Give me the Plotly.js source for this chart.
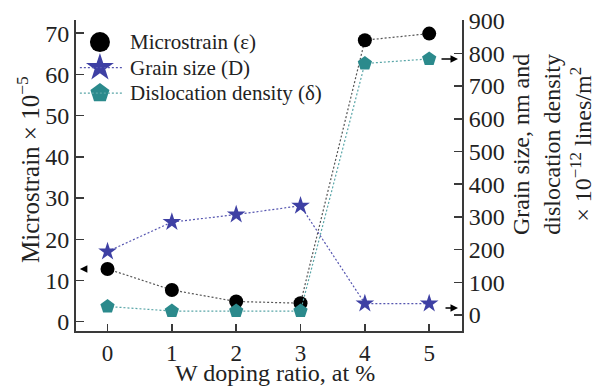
<!DOCTYPE html>
<html>
<head>
<meta charset="utf-8">
<script src="https://cdn.plot.ly/plotly-3.0.1.min.js"></script>
<style>html,body{margin:0;padding:0;background:#fff;}#chart{width:597px;height:391px;}</style>
</head>
<body>
<div id="chart"></div>
<script>
const dopingRatio = [0, 1, 2, 3, 4, 5];
const microstrain = [12.8, 7.7, 4.9, 4.5, 68.3, 69.9];
const grainSize = [194, 284, 307, 334, 35, 35];
const dislocationDensity = [26, 12, 12, 12, 769, 783];
const xTickLabels = ['0', '1', '2', '3', '4', '5'];
const seriesNames = ['Microstrain (ε)', 'Grain size (D)', 'Dislocation density (δ)'];

const FONT = 'Liberation Serif, Times New Roman, serif';
const TXT = '#222222';
const AX = '#3a3a3a';

const styles = [
  {line: {color: '#555555', width: 1.2, dash: '2px,2px'}, marker: {symbol: 'circle', size: 14, color: '#000000'}, legSize: 20, showLegLine: false},
  {line: {color: '#5656b0', width: 1.2, dash: '2px,2px'}, marker: {symbol: 'star', size: 14, color: '#3e40a4'}, legSize: 21, showLegLine: true},
  {line: {color: '#5aa6a8', width: 1.2, dash: '2px,2px'}, marker: {symbol: 'pentagon', size: 15, color: '#2b8a8c'}, legSize: 20, showLegLine: true}
];
const seriesY = [microstrain, grainSize, dislocationDensity];
const seriesAxis = ['y', 'y2', 'y2'];

const traces = seriesY.map((ys, i) => ({
  x: dopingRatio, y: ys, name: seriesNames[i], yaxis: seriesAxis[i],
  mode: 'lines+markers', line: styles[i].line, marker: styles[i].marker,
  showlegend: false
}));

// custom legend (layout positions in paper fractions of an overlay axis)
const legX0 = 0.010, legXm = 0.062, legX1 = 0.122, legTextX = 0.134;
const legRowY = [0.929, 0.847, 0.765];
const shapes = [];
seriesNames.forEach((nm, i) => {
  if (styles[i].showLegLine) {
    shapes.push({type: 'line', xref: 'paper', yref: 'paper', x0: legX0, x1: legX1, y0: legRowY[i], y1: legRowY[i],
      line: {color: styles[i].line.color, width: 1.2, dash: '2px,2px'}});
  }
  traces.push({
    x: [legXm], y: [legRowY[i]], xaxis: 'x2', yaxis: 'y3', mode: 'markers', showlegend: false, hoverinfo: 'skip',
    marker: {symbol: styles[i].marker.symbol, size: styles[i].legSize, color: styles[i].marker.color}
  });
});

const annotations = [
  {xref: 'paper', yref: 'paper', x: 0.5145, y: -0.136, xanchor: 'center', yanchor: 'middle',
   text: 'W doping ratio, at %', showarrow: false, font: {family: FONT, size: 24, color: TXT}},
  {xref: 'paper', yref: 'paper', x: -0.124, y: 0.518, xanchor: 'center', yanchor: 'middle',
   textangle: -90, text: 'Microstrain × 10<sup>−5</sup>', showarrow: false,
   font: {family: FONT, size: 25, color: TXT}},
  {xref: 'paper', yref: 'paper', x: 1.233, y: 0.601, xanchor: 'center', yanchor: 'middle',
   textangle: -90, text: 'Grain size, nm and<br>dislocation density<br>× 10<sup>−12</sup> lines/m<sup>2</sup>',
   showarrow: false, font: {family: FONT, size: 24, color: TXT}},
  {xref: 'x', yref: 'y', x: -0.43, y: microstrain[0], ax: 8, ay: 0, text: '',
   showarrow: true, arrowhead: 2, arrowsize: 1, arrowwidth: 1.5, arrowcolor: '#000'},
  {xref: 'x', yref: 'y2', x: 5.448, y: dislocationDensity[5], ax: -18, ay: 0, text: '',
   showarrow: true, arrowhead: 2, arrowsize: 1, arrowwidth: 1.5, arrowcolor: '#000'},
  {xref: 'x', yref: 'y2', x: 5.448, y: 21, ax: -14, ay: 0, text: '',
   showarrow: true, arrowhead: 2, arrowsize: 1, arrowwidth: 1.5, arrowcolor: '#000'}
];
seriesNames.forEach((nm, i) => {
  annotations.push({xref: 'paper', yref: 'paper', x: legTextX, y: legRowY[i], xanchor: 'left', yanchor: 'middle',
    text: nm, showarrow: false, font: {family: FONT, size: 21, color: TXT}});
});

const layout = {
  width: 597, height: 391,
  margin: {l: 76, r: 135, t: 20, b: 60, pad: 0},
  paper_bgcolor: '#ffffff', plot_bgcolor: '#ffffff',
  font: {family: FONT, color: TXT, size: 24},
  showlegend: false,
  xaxis: {
    range: [-0.49, 5.51], tickmode: 'array', tickvals: dopingRatio, ticktext: xTickLabels,
    showline: true, linecolor: AX, linewidth: 2, mirror: false,
    ticks: 'inside', ticklen: 7, tickwidth: 1.5, tickcolor: AX,
    showgrid: false, zeroline: false,
    tickfont: {family: FONT, size: 23, color: TXT}
  },
  xaxis2: {overlaying: 'x', range: [0, 1], visible: false, showgrid: false, zeroline: false},
  yaxis: {
    range: [-2.25, 73.2], tickvals: [0, 10, 20, 30, 40, 50, 60, 70],
    showline: true, linecolor: AX, linewidth: 2,
    ticks: 'inside', ticklen: 8, tickwidth: 1.5, tickcolor: AX,
    showgrid: false, zeroline: false,
    tickfont: {family: FONT, size: 24, color: TXT}
  },
  yaxis2: {
    range: [-49, 902], tickvals: [0, 100, 200, 300, 400, 500, 600, 700, 800, 900],
    overlaying: 'y', side: 'right', anchor: 'x',
    showline: true, linecolor: AX, linewidth: 2,
    ticks: 'inside', ticklen: 8, tickwidth: 1.5, tickcolor: AX,
    showgrid: false, zeroline: false,
    tickfont: {family: FONT, size: 24, color: TXT}
  },
  yaxis3: {overlaying: 'y', anchor: 'x2', range: [0, 1], visible: false, showgrid: false, zeroline: false},
  shapes: shapes,
  annotations: annotations
};

Plotly.newPlot('chart', traces, layout, {displayModeBar: false, staticPlot: true});
</script>
</body>
</html>
